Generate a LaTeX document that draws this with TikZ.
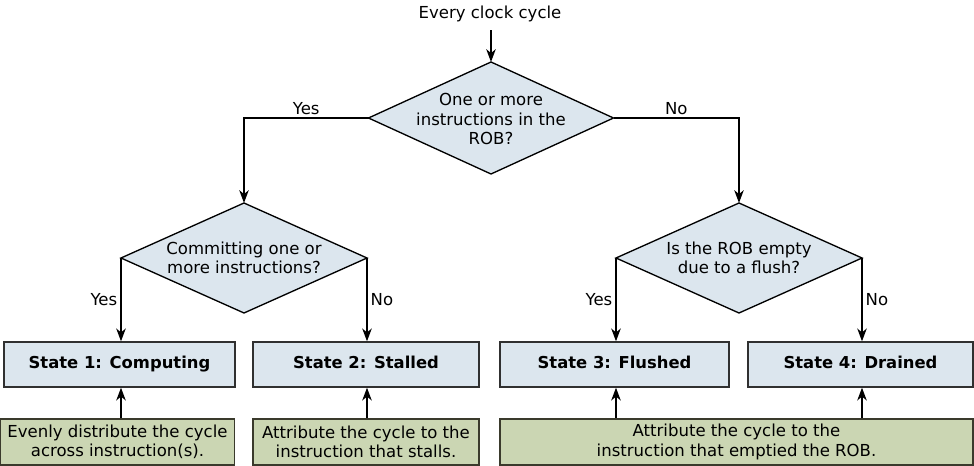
\documentclass[tikz,border=0pt]{standalone}
\usepackage{fontspec}
\setmainfont{DejaVu Sans}
\usetikzlibrary{shapes.geometric,arrows.meta}

\definecolor{decfill}{HTML}{DCE6EE}
\definecolor{statefill}{HTML}{DCE6EE}
\definecolor{stateline}{HTML}{303030}
\definecolor{notefill}{HTML}{CBD6B3}
\definecolor{noteline}{HTML}{3A3A2C}

\begin{document}
\begin{tikzpicture}[x=0.75pt,y=-0.75pt,
  txt/.style={font=\fontsize{12.4}{14.5}\selectfont},
  decision/.style={diamond, draw=black, line width=1pt, fill=decfill,
    inner sep=0pt, outer sep=0pt},
  dectext/.style={align=center, inner sep=0pt, txt},
  statebox/.style={rectangle, draw=stateline, line width=1pt, fill=statefill,
    minimum height=33.75pt, inner sep=0pt, text height=0.73em, text depth=0.2em,
    font=\fontsize{12.3}{14.5}\selectfont\bfseries},
  notebox/.style={rectangle, draw=noteline, line width=1.3pt, fill=notefill,
    minimum height=34.5pt, inner sep=0pt, align=center, txt},
  flow/.style={line width=1.6pt, draw=black,
    -{Stealth[length=9.5pt,width=7pt,inset=2.8pt]}},
  lbl/.style={txt, inner sep=2pt}
]
\useasboundingbox (0,0) rectangle (974,466);

% start label
\node[txt, inner sep=0pt] (start) at (490,14) {Every clock cycle};

% decisions: the diamond outline, then its text on top
\node[decision, minimum width=183.75pt, minimum height=84pt] (d1) at (491,118) {};
\node[dectext] (t1) at (491,119) {One or more\\instructions in the\\ROB?};
\node[decision, minimum width=184.5pt, minimum height=82.5pt] (d2) at (244,258) {};
\node[dectext] (t2) at (244,258) {Committing one or\\more instructions?};
\node[decision, minimum width=184.5pt, minimum height=82.5pt] (d3) at (739,258) {};
\node[dectext] (t3) at (739,258) {Is the ROB empty\\due to a flush?};

% states
\node[statebox, minimum width=173.25pt] (s1) at (119.5,364.5) {State 1: Computing};
\node[statebox, minimum width=169.5pt] (s2) at (366,364.5) {State 2: Stalled};
\node[statebox, minimum width=171.75pt] (s3) at (614.5,364.5) {State 3: Flushed};
\node[statebox, minimum width=168.75pt] (s4) at (860.5,364.5) {State 4: Drained};

% attribution notes
\node[notebox, minimum width=175.5pt] (n1) at (117.5,442)
  {Evenly distribute the cycle\\across instruction(s).};
\node[notebox, minimum width=169.5pt] (n2) at (366,442)
  {Attribute the cycle to the\\instruction that stalls.};
\node[notebox, minimum width=354.75pt] (n3) at (736.5,442)
  {Attribute the cycle to the\\instruction that emptied the ROB.};

% connectors
\draw[flow] ([yshift=-6pt]d1.north |- start.south) -- (d1.north);
\draw[flow] (d1.west) -| node[pos=0.25, above, lbl] {Yes} (d2.north);
\draw[flow] (d1.east) -| node[pos=0.25, above, lbl] {No} (d3.north);

\draw[flow] (d2.west) -- node[left, lbl] {Yes} (d2.west |- s1.north);
\draw[flow] (d2.east) -- node[right, lbl] {No} (d2.east |- s2.north);
\draw[flow] (d3.west) -- node[left, lbl] {Yes} (d3.west |- s3.north);
\draw[flow] (d3.east) -- node[right, lbl] {No} (d3.east |- s4.north);

\draw[flow] (d2.west |- n1.north) -- (d2.west |- s1.south);
\draw[flow] (d2.east |- n2.north) -- (d2.east |- s2.south);
\draw[flow] (d3.west |- n3.north) -- (d3.west |- s3.south);
\draw[flow] (d3.east |- n3.north) -- (d3.east |- s4.south);
\end{tikzpicture}
\end{document}
